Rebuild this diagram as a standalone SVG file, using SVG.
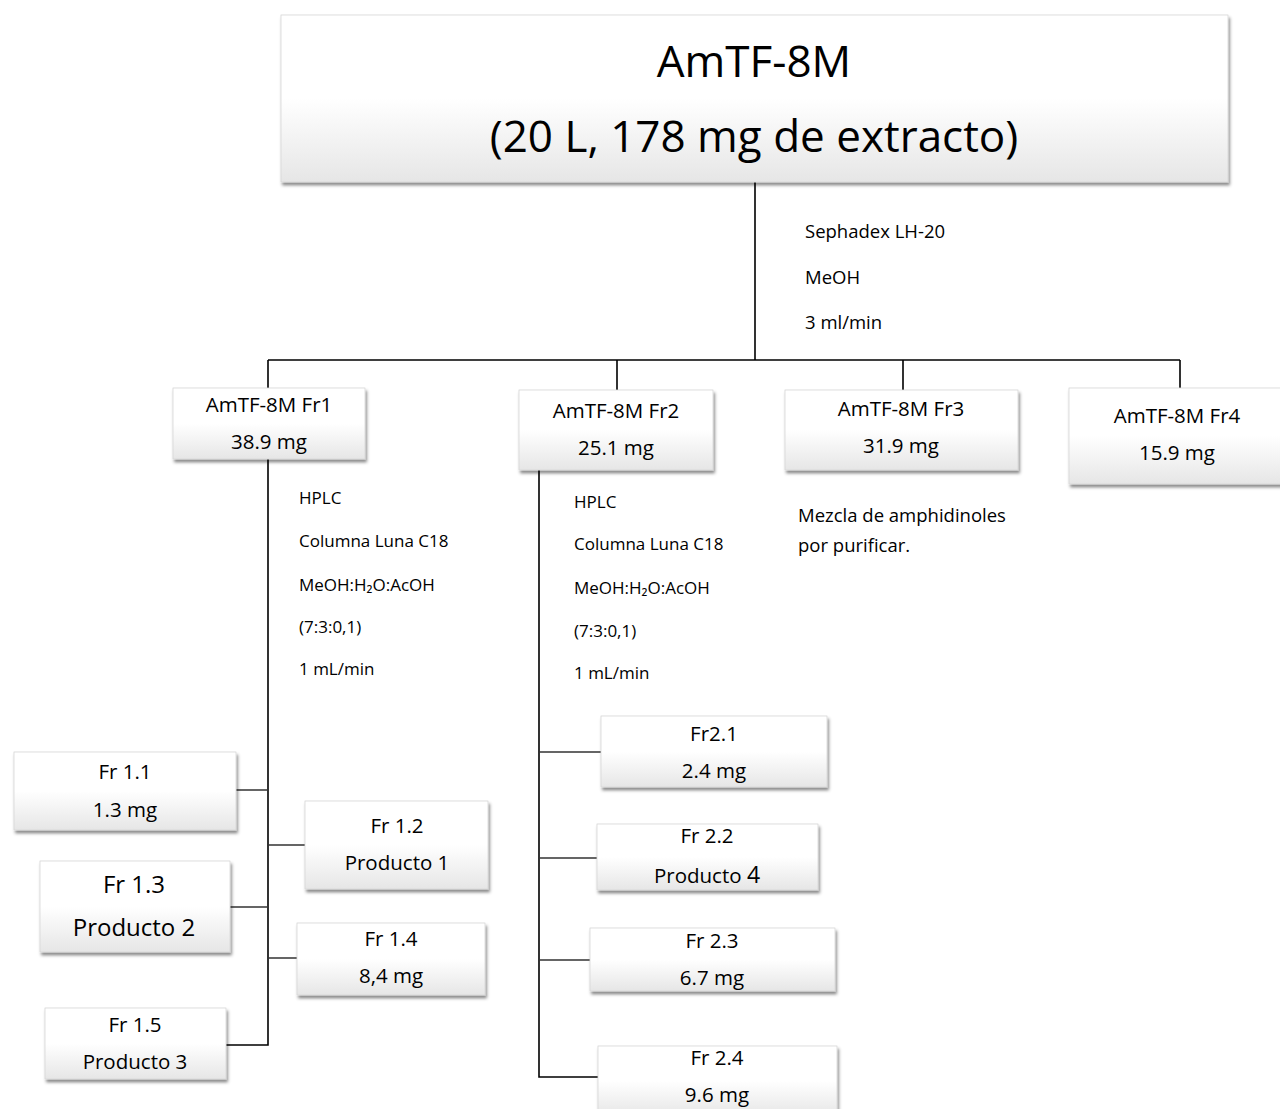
<svg xmlns="http://www.w3.org/2000/svg" width="1280" height="1109" viewBox="0 0 1280 1109">
<style>
text{font-family:"Open Sans","Noto Sans","Liberation Sans",sans-serif;fill:#000;}
.c{text-anchor:middle;}
.n{font-size:20.5px;}
.s{font-size:17px;}
.m{font-size:18.5px;}
.box{fill:url(#g);stroke:#d6d6d6;stroke-width:0.8;filter:url(#sh);}
.ln{stroke:#000;stroke-width:1.6;fill:none;}
.br{stroke:#333;stroke-width:1.4;fill:none;}
</style>
<defs>
<linearGradient id="g" x1="0" y1="0" x2="0" y2="1">
<stop offset="0" stop-color="#ffffff"/>
<stop offset="0.5" stop-color="#ffffff"/>
<stop offset="1" stop-color="#e6e6e6"/>
</linearGradient>
<filter id="sh" x="-5%" y="-10%" width="115%" height="130%">
<feDropShadow dx="1.5" dy="3" stdDeviation="1.5" flood-color="#000" flood-opacity="0.45"/>
</filter>
</defs>
<g id="connectors">
<path class="ln" d="M755 182V360M268 360H1180M268 360V388M617 360V390M903 360V390M1180 360V390"/>
<path class="ln" d="M268 459V1045H226"/>
<path class="br" d="M236 790H268M268 845H305M230 907H268M268 958H297"/>
<path class="ln" d="M539 470V1077H598"/>
<path class="br" d="M539 752H601M539 858H597M539 960H590"/>
</g>
<g id="labels">
<text class="m" x="805" y="238">Sephadex LH-20</text>
<text class="m" x="805" y="284">MeOH</text>
<text class="m" x="805" y="329">3 ml/min</text>
<text class="s" x="299" y="504">HPLC</text>
<text class="s" x="299" y="547">Columna Luna C18</text>
<text class="s" x="299" y="591">MeOH:H₂O:AcOH</text>
<text class="s" x="299" y="633">(7:3:0,1)</text>
<text class="s" x="299" y="675">1 mL/min</text>
<text class="s" x="574" y="508">HPLC</text>
<text class="s" x="574" y="550">Columna Luna C18</text>
<text class="s" x="574" y="594">MeOH:H₂O:AcOH</text>
<text class="s" x="574" y="637">(7:3:0,1)</text>
<text class="s" x="574" y="679">1 mL/min</text>
<text class="m" x="798" y="522" font-size="19.5">Mezcla de amphidinoles</text>
<text class="m" x="798" y="552" font-size="19.5">por purificar.</text>
</g>
<g id="root">
<rect class="box" x="281" y="15" width="947" height="167"/>
<text class="c" x="754" y="77" font-size="44">AmTF-8M</text>
<text class="c" x="754" y="152" font-size="44">(20 L, 178 mg de extracto)</text>
</g>
<g id="fr1">
<rect class="box" x="173" y="388" width="192" height="71"/>
<text class="c n" x="269" y="412">AmTF-8M Fr1</text>
<text class="c n" x="269" y="449">38.9 mg</text>
</g>
<g id="fr2">
<rect class="box" x="519" y="390" width="194" height="80"/>
<text class="c n" x="616" y="418">AmTF-8M Fr2</text>
<text class="c n" x="616" y="455">25.1 mg</text>
</g>
<g id="fr3">
<rect class="box" x="785" y="390" width="233" height="80"/>
<text class="c n" x="901" y="416">AmTF-8M Fr3</text>
<text class="c n" x="901" y="453">31.9 mg</text>
</g>
<g id="fr4">
<rect class="box" x="1069" y="388" width="216" height="96"/>
<text class="c n" x="1177" y="423">AmTF-8M Fr4</text>
<text class="c n" x="1177" y="460">15.9 mg</text>
</g>
<g id="fr1_1">
<rect class="box" x="14" y="752" width="222" height="78"/>
<text class="c n" x="125" y="779">Fr 1.1</text>
<text class="c n" x="125" y="817">1.3 mg</text>
</g>
<g id="fr1_2">
<rect class="box" x="305" y="801" width="183" height="88"/>
<text class="c n" x="397" y="833">Fr 1.2</text>
<text class="c n" x="397" y="870">Producto 1</text>
</g>
<g id="fr1_3">
<rect class="box" x="40" y="861" width="190" height="91"/>
<text class="c" x="134" y="893" font-size="24">Fr 1.3</text>
<text class="c" x="134" y="936" font-size="24">Producto 2</text>
</g>
<g id="fr1_4">
<rect class="box" x="297" y="923" width="188" height="72"/>
<text class="c n" x="391" y="946">Fr 1.4</text>
<text class="c n" x="391" y="983">8,4 mg</text>
</g>
<g id="fr1_5">
<rect class="box" x="45" y="1008" width="181" height="71"/>
<text class="c n" x="135" y="1032">Fr 1.5</text>
<text class="c n" x="135" y="1069">Producto 3</text>
</g>
<g id="fr2_1">
<rect class="box" x="601" y="716" width="226" height="71"/>
<text class="c n" x="714" y="741">Fr2.1</text>
<text class="c n" x="714" y="778">2.4 mg</text>
</g>
<g id="fr2_2">
<rect class="box" x="597" y="824" width="221" height="66"/>
<text class="c n" x="707" y="843">Fr 2.2</text>
<text class="c n" x="707" y="883">Producto <tspan font-size="23">4</tspan></text>
</g>
<g id="fr2_3">
<rect class="box" x="590" y="928" width="245" height="63"/>
<text class="c n" x="712" y="948">Fr 2.3</text>
<text class="c n" x="712" y="985">6.7 mg</text>
</g>
<g id="fr2_4">
<rect class="box" x="598" y="1046" width="239" height="70"/>
<text class="c n" x="717" y="1065">Fr 2.4</text>
<text class="c n" x="717" y="1102">9.6 mg</text>
</g>
</svg>
